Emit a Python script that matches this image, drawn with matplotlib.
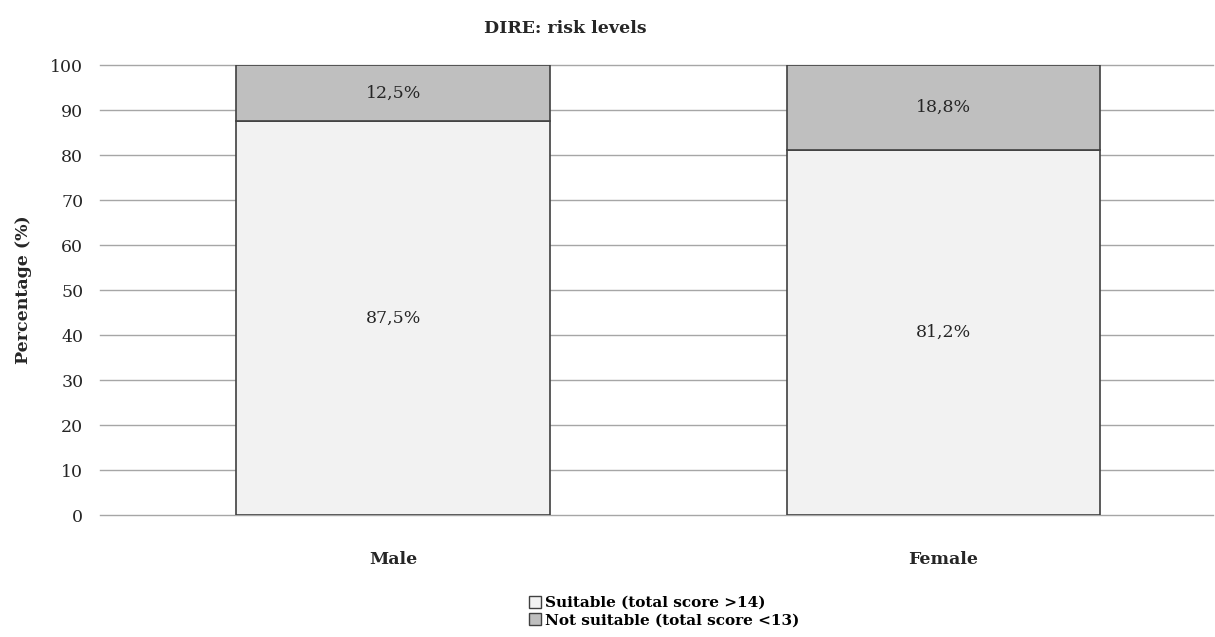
import matplotlib
matplotlib.use("Agg")
import matplotlib.pyplot as plt
from matplotlib.patches import Patch

categories = ["Male", "Female"]
suitable = [87.5, 81.2]
not_suitable = [12.5, 18.8]
suitable_labels = ["87,5%", "81,2%"]
not_suitable_labels = ["12,5%", "18,8%"]
yticks = [0, 10, 20, 30, 40, 50, 60, 70, 80, 90, 100]

plt.rcParams['font.family'] = ['DejaVu Serif']

fig = plt.figure(figsize=(12.15, 6.37), dpi=100)
ax = fig.add_axes([0.0823, 0.1915, 0.916, 0.7064])

x = list(range(len(categories)))
w = 0.57
edge = "#404040"
ax.bar(x, suitable, width=w, color="#f2f2f2", edgecolor=edge, linewidth=1.2, zorder=3)
ax.bar(x, not_suitable, width=w, bottom=suitable, color="#bfbfbf", edgecolor=edge, linewidth=1.2, zorder=3)

for xi, s, n, sl, nl in zip(x, suitable, not_suitable, suitable_labels, not_suitable_labels):
    ax.text(xi, s / 2, sl, ha="center", va="center", fontsize=12.5, color="#262626", zorder=4)
    ax.text(xi, s + n / 2, nl, ha="center", va="center", fontsize=12.5, color="#262626", zorder=4)

ax.set_ylim(0, 100)
ax.set_xlim(-0.533, 1.49)
ax.set_yticks(yticks)
ax.set_yticklabels([str(t) for t in yticks], fontsize=12.5, color="#262626")
ax.yaxis.grid(True, color="#a6a6a6", linewidth=1.0, zorder=0)
for gl in ax.get_ygridlines():
    gl.set_clip_on(False)
ax.set_axisbelow(True)
for s in ax.spines.values():
    s.set_visible(False)
ax.tick_params(axis="y", length=0, pad=12)
ax.tick_params(axis="x", length=0, pad=26)
ax.set_xticks(x)
ax.set_xticklabels(categories, fontsize=12.5, fontweight="bold", color="#262626")
ax.set_ylabel("Percentage (%)", fontsize=12.5, fontweight="bold", color="#262626")
ax.yaxis.set_label_coords(-0.061, 0.5)
fig.text(0.465, 0.955, "DIRE: risk levels", ha="center", va="center", fontsize=12.5, fontweight="bold", color="#262626")

handles = [Patch(facecolor="#f2f2f2", edgecolor=edge, label="Suitable (total score >14)"),
           Patch(facecolor="#bfbfbf", edgecolor=edge, label="Not suitable (total score <13)")]
fig.legend(handles=handles, loc="center left", bbox_to_anchor=(0.435, 0.04), frameon=False,
           prop={"size": 11, "weight": "bold"}, handlelength=0.8, handleheight=0.8,
           handletextpad=0.3, labelspacing=0.2, borderaxespad=0, borderpad=0)

fig.savefig("out.png", dpi=100)
